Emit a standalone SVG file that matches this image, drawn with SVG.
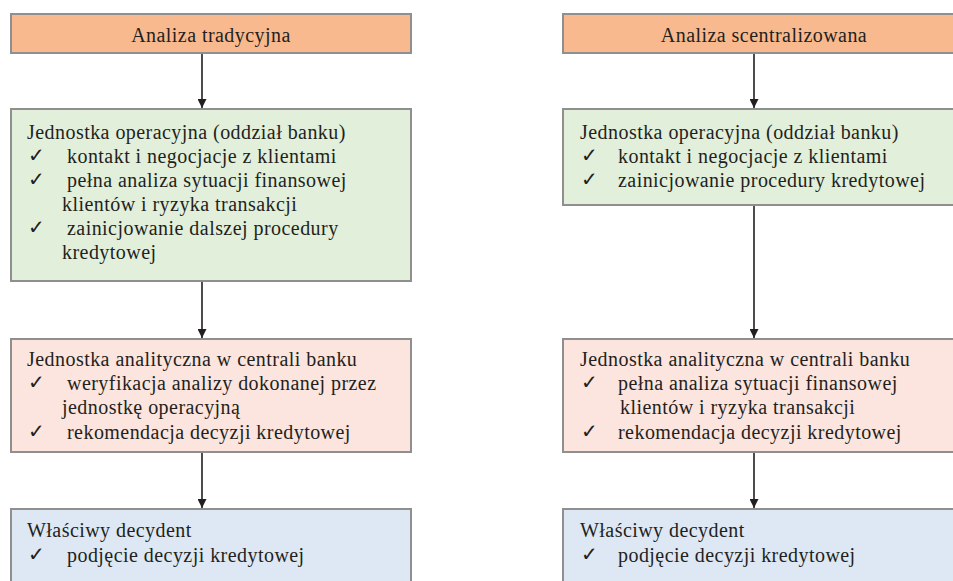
<svg xmlns="http://www.w3.org/2000/svg" width="953" height="581" viewBox="0 0 953 581">
  <defs>
    <marker id="arrow" viewBox="0 0 10 10" refX="10" refY="5" markerWidth="10" markerHeight="9" markerUnits="userSpaceOnUse" orient="auto">
      <path d="M0,0 L10,5 L0,10 z" fill="#231f20"/>
    </marker>
    <style>
      .box { stroke: #8f8f8f; stroke-width: 2; }
      .head { fill: #f9b98e; }
      .op { fill: #e2efdb; }
      .an { fill: #fbe5de; }
      .dec { fill: #dde8f4; }
      .t { font-family: 'Liberation Serif', 'DejaVu Serif', serif; font-size: 20px; letter-spacing: 0.45px; fill: #231f20; }
      .ck { font-family: 'DejaVu Sans', sans-serif; font-size: 20px; fill: #231f20; }
      .edge { stroke: #231f20; stroke-width: 1.6; fill: none; marker-end: url(#arrow); }
    </style>
  </defs>
  <rect width="953" height="581" fill="#ffffff"/>

  <!-- left column: traditional analysis -->
  <g id="trad-head">
    <rect class="box head" x="11" y="14" width="400" height="39"/>
    <text class="t" x="211" y="42" text-anchor="middle">Analiza tradycyjna</text>
  </g>
  <g id="trad-op">
    <rect class="box op" x="11" y="109" width="400" height="172"/>
    <text class="t" x="27" y="139">Jednostka operacyjna (oddział banku)</text>
    <text class="ck" x="28" y="162">✓</text>
    <text class="t" x="67" y="163">kontakt i negocjacje z klientami</text>
    <text class="ck" x="28" y="186">✓</text>
    <text class="t" x="67" y="187">pełna analiza sytuacji finansowej</text>
    <text class="t" x="62" y="211">klientów i ryzyka transakcji</text>
    <text class="ck" x="28" y="234">✓</text>
    <text class="t" x="67" y="235">zainicjowanie dalszej procedury</text>
    <text class="t" x="62" y="259">kredytowej</text>
  </g>
  <g id="trad-an">
    <rect class="box an" x="11" y="339" width="400" height="113"/>
    <text class="t" x="27" y="366">Jednostka analityczna w centrali banku</text>
    <text class="ck" x="28" y="389">✓</text>
    <text class="t" x="67" y="390">weryfikacja analizy dokonanej przez</text>
    <text class="t" x="62" y="414">jednostkę operacyjną</text>
    <text class="ck" x="28" y="438">✓</text>
    <text class="t" x="67" y="439">rekomendacja decyzji kredytowej</text>
  </g>
  <g id="trad-dec">
    <rect class="box dec" x="11" y="509" width="400" height="80"/>
    <text class="t" x="27" y="537">Właściwy decydent</text>
    <text class="ck" x="28" y="561">✓</text>
    <text class="t" x="67" y="562">podjęcie decyzji kredytowej</text>
  </g>

  <!-- right column: centralised analysis -->
  <g id="cent-head">
    <rect class="box head" x="563" y="14" width="400" height="39"/>
    <text class="t" x="764" y="42" text-anchor="middle">Analiza scentralizowana</text>
  </g>
  <g id="cent-op">
    <rect class="box op" x="563" y="109" width="400" height="96"/>
    <text class="t" x="580" y="139">Jednostka operacyjna (oddział banku)</text>
    <text class="ck" x="581" y="162">✓</text>
    <text class="t" x="618" y="163">kontakt i negocjacje z klientami</text>
    <text class="ck" x="581" y="186">✓</text>
    <text class="t" x="618" y="187">zainicjowanie procedury kredytowej</text>
  </g>
  <g id="cent-an">
    <rect class="box an" x="563" y="339" width="400" height="113"/>
    <text class="t" x="580" y="366">Jednostka analityczna w centrali banku</text>
    <text class="ck" x="581" y="389">✓</text>
    <text class="t" x="618" y="390">pełna analiza sytuacji finansowej</text>
    <text class="t" x="620" y="414">klientów i ryzyka transakcji</text>
    <text class="ck" x="581" y="438">✓</text>
    <text class="t" x="618" y="439">rekomendacja decyzji kredytowej</text>
  </g>
  <g id="cent-dec">
    <rect class="box dec" x="563" y="509" width="400" height="80"/>
    <text class="t" x="580" y="537">Właściwy decydent</text>
    <text class="ck" x="581" y="561">✓</text>
    <text class="t" x="618" y="562">podjęcie decyzji kredytowej</text>
  </g>

  <!-- connectors -->
  <g id="connectors">
    <line class="edge" x1="202" y1="54" x2="202" y2="108"/>
    <line class="edge" x1="202" y1="282" x2="202" y2="338"/>
    <line class="edge" x1="202" y1="453" x2="202" y2="508"/>
    <line class="edge" x1="754" y1="54" x2="754" y2="108"/>
    <line class="edge" x1="754" y1="206" x2="754" y2="338"/>
    <line class="edge" x1="754" y1="453" x2="754" y2="508"/>
  </g>
</svg>
